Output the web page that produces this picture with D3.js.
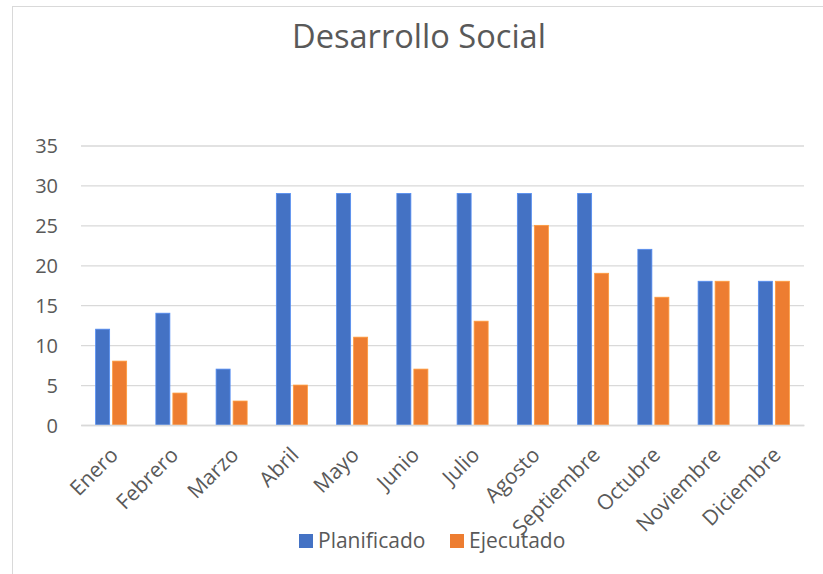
<!DOCTYPE html>
<html><head><meta charset="utf-8">
<script src="https://cdn.jsdelivr.net/npm/d3@7"></script>
<style>body{margin:0;background:#fff;}svg{display:block;font-family:"Open Sans",sans-serif;}</style>
</head><body>
<svg id="c" width="823" height="574"></svg>
<script>
const title = "Desarrollo Social";
const months = ["Enero","Febrero","Marzo","Abril","Mayo","Junio","Julio","Agosto","Septiembre","Octubre","Noviembre","Diciembre"];
const seriesNames = ["Planificado","Ejecutado"];
const planificado = [12,14,7,29,29,29,29,29,29,22,18,18];
const ejecutado = [8,4,3,5,11,7,13,25,19,16,18,18];
const yTicks = [0,5,10,15,20,25,30,35];
const colors = ["#4472C4","#ED7D31"];

const svg = d3.select("#c");
const M = {left:81, right:804, top:145.5, bottom:425};
const textColor = "#595959";

svg.append("rect").attr("x",12.5).attr("y",6.5).attr("width",840).attr("height",600)
  .attr("fill","#fff").attr("stroke","#d9d9d9").attr("stroke-width",1);

const y = d3.scaleLinear().domain([0,35]).range([M.bottom,M.top]);
const x0 = d3.scaleBand().domain(months).range([M.left,M.right]).paddingInner(0.485).paddingOuter(0.2425);
const x1 = d3.scaleBand().domain(seriesNames).range([0,x0.bandwidth()]).paddingInner(0.176);

// gridlines
const yAxis = d3.axisLeft(y).tickValues(yTicks).tickSize(-(M.right-M.left)).tickPadding(23);
const gy = svg.append("g").attr("transform",`translate(${M.left},0)`).call(yAxis);
gy.select(".domain").remove();
gy.selectAll(".tick line").attr("stroke","#d9d9d9").attr("stroke-width",1.3);
gy.selectAll(".tick text").attr("fill",textColor).attr("font-size",20).attr("font-family","Open Sans").attr("dy","0.36em");

// bars
const rows = months.map((m,i)=>({m, vals:[planificado[i], ejecutado[i]]}));
const g = svg.append("g");
rows.forEach(r=>{
  r.vals.forEach((v,j)=>{
    g.append("rect")
      .attr("x", x0(r.m)+x1(seriesNames[j]))
      .attr("y", y(v))
      .attr("width", x1.bandwidth())
      .attr("height", y(0)-y(v))
      .attr("fill", colors[j])
      .attr("stroke", d3.color(colors[j]).brighter(0.6))
      .attr("stroke-width", 0.8);
  });
});

// x axis line
const xAxis = d3.axisBottom(x0).tickSize(0).tickPadding(0);
const gx = svg.append("g").attr("transform",`translate(0,${M.bottom})`).call(xAxis);
gx.select(".domain").attr("stroke","#d9d9d9").attr("stroke-width",1.3);
gx.selectAll(".tick text")
  .attr("fill",textColor).attr("font-size",21).attr("font-family","Open Sans")
  .attr("text-anchor","end")
  .attr("y",0)
  .attr("transform","translate(3,26) rotate(-45)")
  .attr("dy","0.35em");

// title
svg.append("text").attr("x",419).attr("y",48).attr("text-anchor","middle")
  .attr("fill",textColor).attr("font-size",32.6).attr("font-family","Open Sans").text(title);

// legend
const legX = [299,450];
seriesNames.forEach((s,j)=>{
  const lg = svg.append("g").attr("transform",`translate(${legX[j]},534)`);
  lg.append("rect").attr("width",14).attr("height",14).attr("fill",colors[j]);
  lg.append("text").attr("x",19).attr("y",14).attr("fill",textColor).attr("font-size",21).attr("font-family","Open Sans").text(s);
});
</script>
</body></html>
